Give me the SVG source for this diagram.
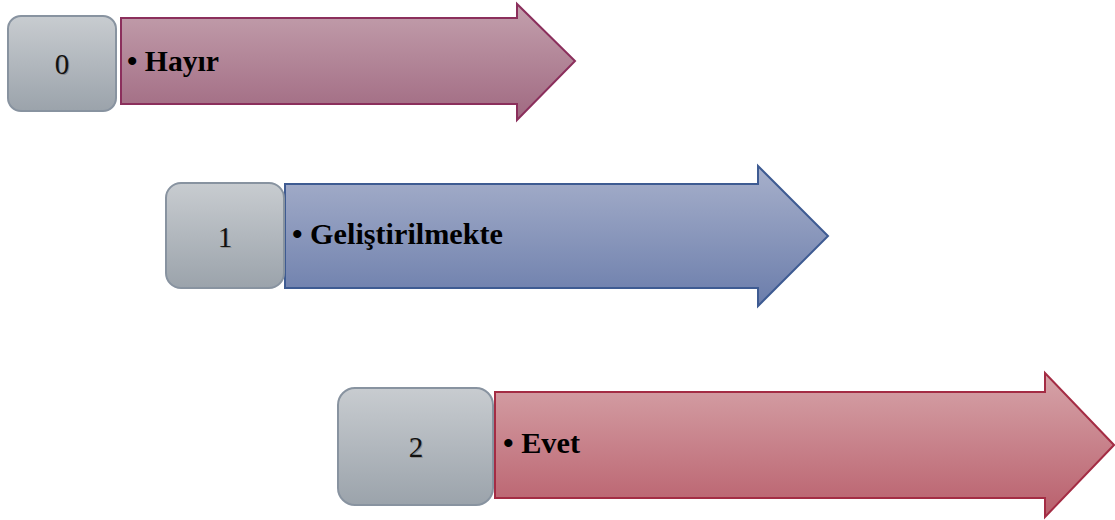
<svg xmlns="http://www.w3.org/2000/svg" width="1115" height="520" viewBox="0 0 1115 520">
<defs>
<linearGradient id="gBox" x1="0" y1="0" x2="0" y2="1"><stop offset="0" stop-color="#c8ccd0"/><stop offset="1" stop-color="#9ba3ab"/></linearGradient>
<linearGradient id="gA0" x1="0" y1="0" x2="0" y2="1"><stop offset="0" stop-color="#c3a0ad"/><stop offset="1" stop-color="#a06981"/></linearGradient>
<linearGradient id="gA1" x1="0" y1="0" x2="0" y2="1"><stop offset="0" stop-color="#a7b0cb"/><stop offset="1" stop-color="#6b7dab"/></linearGradient>
<linearGradient id="gA2" x1="0" y1="0" x2="0" y2="1"><stop offset="0" stop-color="#d6a4a9"/><stop offset="1" stop-color="#b95f6c"/></linearGradient>
</defs>
<style>
.box{fill:url(#gBox);stroke:#8893a0;stroke-width:2}
.num{font-family:"Liberation Serif",serif;font-size:29px;fill:#111;text-anchor:middle}
.shadow{fill:#8f8f8f}
.lbl{font-family:"Liberation Serif",serif;font-size:29px;font-weight:bold;fill:#000}
.a0{fill:url(#gA0);stroke:#8b2f5c;stroke-width:2}
.a1{fill:url(#gA1);stroke:#3e5b92;stroke-width:2}
.a2{fill:url(#gA2);stroke:#a42c44;stroke-width:2}
</style>
<g id="connectors"></g>
<g id="node0">
<path class="a0" d="M121,18 H517 V4 L575,61 L517,120 V104 H121 Z"/>
<rect class="box" x="8" y="16" width="108" height="95" rx="13"/>
<text class="num shadow" x="63" y="75">0</text>
<text class="num" x="62" y="74">0</text>
<text class="lbl" x="127" y="71" textLength="92" lengthAdjust="spacingAndGlyphs">• Hayır</text>
</g>
<g id="node1">
<path class="a1" d="M285,184 H758 V166 L828,236 L758,306 V288 H285 Z"/>
<rect class="box" x="166" y="183" width="118" height="105" rx="15"/>
<text class="num shadow" x="226" y="248">1</text>
<text class="num" x="225" y="247">1</text>
<text class="lbl" x="292" y="244" textLength="211" lengthAdjust="spacingAndGlyphs">• Geliştirilmekte</text>
</g>
<g id="node2">
<path class="a2" d="M495,392 H1045 V373 L1114,445 L1045,517 V498 H495 Z"/>
<rect class="box" x="338" y="388" width="155" height="117" rx="17"/>
<text class="num shadow" x="417" y="458">2</text>
<text class="num" x="416" y="457">2</text>
<text class="lbl" x="503" y="453" textLength="77" lengthAdjust="spacingAndGlyphs">• Evet</text>
</g>
</svg>
